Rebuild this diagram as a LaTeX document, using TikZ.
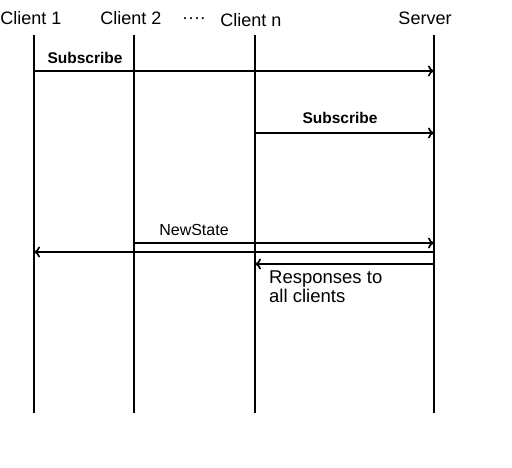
\documentclass[tikz,border=0pt]{standalone}
\usepackage{fontspec}
\setmainfont{Liberation Sans}
\usetikzlibrary{arrows.meta,positioning}
\tikzset{>={To[length=6pt,width=11pt]}}

\begin{document}
\begin{tikzpicture}[x=1pt,y=-1pt,
                    lifeline/.style={line width=2pt, black},
                    msg/.style={line width=1.7pt, black,->},
                    actor/.style={font=\fontsize{18}{20}\selectfont, anchor=base, inner sep=0pt},
                    msglabel/.style={font=\fontsize{16}{18}\selectfont, anchor=base, inner sep=0pt},
                   ]

\useasboundingbox (0,0) rectangle (512,467);

\node[actor] (c1) at (31,24) {Client 1};
\node[actor] (c2) at (131,24) {Client 2};
\node[actor] (dots) at (194,23) {····};
\node[actor] (cn) at (251,26) {Client n};
\node[actor] (srv) at (425,24) {Server};

\coordinate (c1top) at (34,35);   \coordinate (c1bot) at (34,413);
\coordinate (c2top) at (134,35);  \coordinate (c2bot) at (134,413);
\coordinate (cntop) at (255,35);  \coordinate (cnbot) at (255,413);
\coordinate (srvtop) at (434,35); \coordinate (srvbot) at (434,413);

\draw[lifeline] (c1top) -- (c1bot);
\draw[lifeline] (c2top) -- (c2bot);
\draw[lifeline] (cntop) -- (cnbot);
\draw[lifeline] (srvtop) -- (srvbot);

\coordinate (sub1from) at (34,71);  \coordinate (sub1to) at (434,71);
\coordinate (sub2from) at (255,133); \coordinate (sub2to) at (434,133);
\coordinate (nsfrom) at (134,243);  \coordinate (nsto) at (434,243);
\coordinate (allfrom) at (434,252); \coordinate (allto) at (34,252);
\coordinate (respfrom) at (434,264); \coordinate (respto) at (255,264);

\draw[msg] (sub1from) -- (sub1to);
\draw[msg] (sub2from) -- (sub2to);
\draw[msg] (nsfrom) -- (nsto);
\draw[msg] (allfrom) -- (allto);
\draw[msg] (respfrom) -- (respto);

\node[msglabel, font=\fontsize{15.5}{18}\selectfont\bfseries] (sub1) at (85,63) {Subscribe};
\node[msglabel, font=\fontsize{15.5}{18}\selectfont\bfseries] (sub2) at (340,123) {Subscribe};
\node[msglabel] (ns) at (194,235) {NewState};
\node[msglabel, anchor=base west, align=left, font=\fontsize{18.5}{15}\selectfont] (resp) at (269,302) {Responses to\\all clients};

\end{tikzpicture}
\end{document}
